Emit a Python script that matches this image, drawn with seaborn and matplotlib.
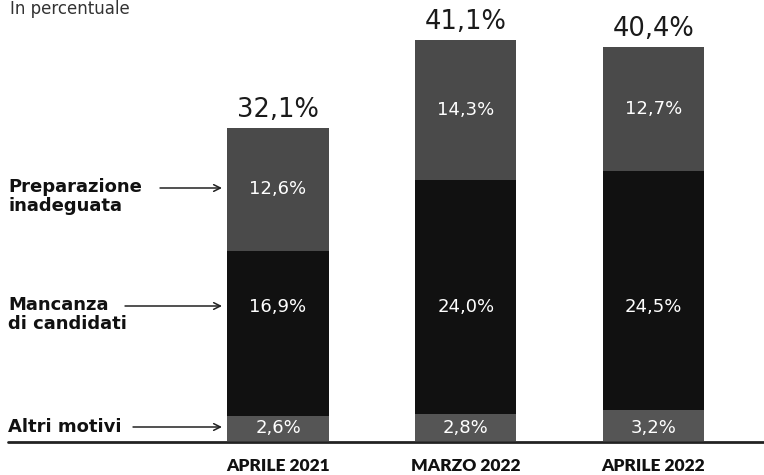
import matplotlib
matplotlib.use("Agg")
import matplotlib.pyplot as plt
import seaborn as sns
import pandas as pd

categories = ["APRILE 2021", "MARZO 2022", "APRILE 2022"]
altri_motivi = [2.6, 2.8, 3.2]
mancanza_candidati = [16.9, 24.0, 24.5]
preparazione_inadeguata = [12.6, 14.3, 12.7]
totale = [32.1, 41.1, 40.4]

sns.set_theme(style="white")
plt.rcParams['font.family'] = ['DejaVu Sans']

df = pd.DataFrame({
    "cat": categories,
    "altri": altri_motivi,
    "mancanza": mancanza_candidati,
    "prep": preparazione_inadeguata,
    "tot": totale,
})
df["mid_cum"] = df["altri"] + df["mancanza"]
df["top_cum"] = df["mid_cum"] + df["prep"]

fig = plt.figure(figsize=(7.64, 4.75), dpi=100)
ax = fig.add_axes([0, 34 / 475, 1, 441 / 475])

c_top = "#4a4a4a"
c_mid = "#111111"
c_bot = "#555555"
bw = 0.54

sns.barplot(data=df, x="cat", y="top_cum", order=categories, color=c_top,
            saturation=1, width=bw, linewidth=0, ax=ax)
sns.barplot(data=df, x="cat", y="mid_cum", order=categories, color=c_mid,
            saturation=1, width=bw, linewidth=0, ax=ax)
sns.barplot(data=df, x="cat", y="altri", order=categories, color=c_bot,
            saturation=1, width=bw, linewidth=0, ax=ax)

ax.set_xlim(-1.481, 2.589)
ax.set_ylim(0, 441 / 9.75)
ax.set_xlabel("")
ax.set_ylabel("")
ax.set_yticks([])
for s in ax.spines.values():
    s.set_visible(False)
ax.tick_params(axis="x", length=0, pad=12)
ax.set_xticks(range(len(categories)))
ax.set_xticklabels(categories, fontsize=12.5, fontweight="heavy", color="#111111",
                   family=["Lato", "DejaVu Sans"])

ax.axhline(-0.15, xmin=8 / 764, xmax=1, color="#222222", lw=2, clip_on=False)

def fmt(v):
    return f"{v:.1f}%".replace(".", ",")

mid_label_y = 13.75
for i in range(len(categories)):
    ax.text(i, df["tot"][i] + 1.9, fmt(df["tot"][i]),
            ha="center", va="center", fontsize=18.5, color="#1a1a1a")
    ax.text(i, df["mid_cum"][i] + df["prep"][i] / 2, fmt(df["prep"][i]),
            ha="center", va="center", fontsize=13, color="white")
    ax.text(i, mid_label_y, fmt(df["mancanza"][i]),
            ha="center", va="center", fontsize=13, color="white")
    ax.text(i, 1.35, fmt(df["altri"][i]),
            ha="center", va="center", fontsize=13, color="white")

def px2x(p):
    return (p - 278) / 187.75

def py2y(p):
    return (441 - p) / 9.75

arrows = [(188, 160), (306, 125), (427, 133)]
for ypx, arrow_start in arrows:
    ax.annotate("", xy=(px2x(222), py2y(ypx)), xytext=(px2x(arrow_start), py2y(ypx)),
                arrowprops=dict(arrowstyle="->", color="#222222", lw=1.1,
                                shrinkA=0, shrinkB=0, mutation_scale=12))

ax.text(px2x(8), py2y(178), "Preparazione\ninadeguata", ha="left", va="top",
        fontsize=13, fontweight="bold", color="#111111", linespacing=1.1)
ax.text(px2x(8), py2y(296), "Mancanza\ndi candidati", ha="left", va="top",
        fontsize=13, fontweight="bold", color="#111111", linespacing=1.1)
ax.text(px2x(8), py2y(427), "Altri motivi", ha="left", va="center",
        fontsize=13, fontweight="bold", color="#111111")

fig.text(10 / 764, 1.0, "In percentuale", ha="left", va="top",
         fontsize=12, color="#333333")

fig.savefig("out.png", dpi=100)
